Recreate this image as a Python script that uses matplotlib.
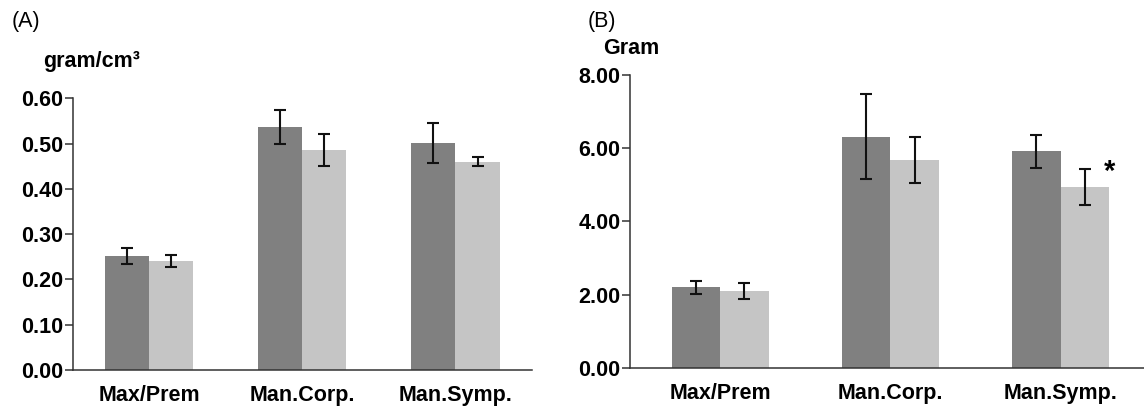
import numpy as np
import matplotlib
matplotlib.use("Agg")
from matplotlib import pyplot as plt

plt.rcParams['font.family'] = ['Liberation Sans', 'DejaVu Sans']

# categories
groups = ["Max/Prem", "Man.Corp.", "Man.Symp."]

# panel A : gram/cm3
a_dark = [0.252, 0.537, 0.501]
a_dark_err = [0.017, 0.037, 0.045]
a_light = [0.240, 0.485, 0.460]
a_light_err = [0.013, 0.035, 0.010]
a_ticks = [0.0, 0.1, 0.2, 0.3, 0.4, 0.5, 0.6]

# panel B : gram
b_dark = [2.20, 6.32, 5.92]
b_dark_err = [0.18, 1.15, 0.45]
b_light = [2.11, 5.69, 4.94]
b_light_err = [0.22, 0.63, 0.49]
b_ticks = [0, 2, 4, 6, 8]

dark = "#808080"
light = "#c5c5c5"

fig = plt.figure(figsize=(11.44, 4.12), dpi=100)
axA = fig.add_axes([0.0634, 0.102, 0.4017, 0.6595])
axB = fig.add_axes([0.5507, 0.1068, 0.4493, 0.7112])


def draw(ax, d, de, l, le, w):
	x = np.arange(len(groups))
	ax.bar(x - w/2, d, w, color=dark, linewidth=0)
	ax.bar(x + w/2, l, w, color=light, linewidth=0)
	ax.errorbar(x - w/2, d, yerr=de, fmt='none', ecolor="#111111",
		elinewidth=1.5, capsize=4.5, capthick=1.5)
	ax.errorbar(x + w/2, l, yerr=le, fmt='none', ecolor="#111111",
		elinewidth=1.5, capsize=4.5, capthick=1.5)
	ax.set_xticks(x)
	ax.set_xticklabels(groups, fontsize=15.5, fontweight='bold')
	ax.tick_params(axis='x', length=0, pad=11)
	ax.tick_params(axis='y', length=5.5, width=1.1, pad=1.5, direction='out',
		labelsize=15.5, color="#333333")
	for s in ["top", "right"]:
		ax.spines[s].set_visible(False)
	for s in ["left", "bottom"]:
		ax.spines[s].set_linewidth(1.1)
		ax.spines[s].set_color("#333333")


draw(axA, a_dark, a_dark_err, a_light, a_light_err, 0.288)
axA.set_xlim(-0.5, 2.5)
axA.set_ylim(0, 0.6)
axA.set_yticks(a_ticks)
axA.set_yticklabels(["%.2f" % t for t in a_ticks], fontweight='bold')

draw(axB, b_dark, b_dark_err, b_light, b_light_err, 0.285)
axB.set_xlim(-0.53, 2.49)
axB.set_ylim(0, 8)
axB.set_yticks(b_ticks)
axB.set_yticklabels(["%.2f" % t for t in b_ticks], fontweight='bold')

# significance mark
axB.text(2.29, 5.36, "*", fontsize=21, fontweight='bold', ha='center', va='center')

# panel letters and units
W, H = 1144.0, 412.0
fig.text(26/W, 1 - 21/H, "(A)", fontsize=15.5, ha='center', va='center')
fig.text(92/W, 1 - 61/H, "gram/cm³", fontsize=15.5, fontweight='bold', ha='center', va='center')
fig.text(602/W, 1 - 21/H, "(B)", fontsize=15.5, ha='center', va='center')
fig.text(631/W, 1 - 48/H, "Gram", fontsize=15.5, fontweight='bold', ha='center', va='center')

fig.savefig("out.png", dpi=100)
